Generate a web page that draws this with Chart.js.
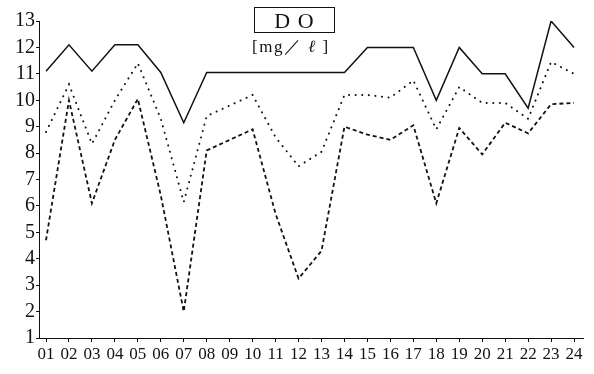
<!DOCTYPE html>
<html>
<head>
<meta charset="utf-8">
<script src="https://cdn.jsdelivr.net/npm/chart.js@4"></script>
<style>
html,body{margin:0;padding:0;background:#fff;}
#wrap{position:relative;width:594px;height:374px;}
#title{position:absolute;left:254px;top:7px;width:81px;height:26px;border:1px solid #111;box-sizing:border-box;
  font-family:"Liberation Serif",serif;font-size:22px;line-height:25px;text-align:center;letter-spacing:1px;color:#111;}
#unit{position:absolute;left:252px;top:35px;width:84px;font-family:"Liberation Serif",serif;font-size:17px;color:#111;white-space:nowrap;letter-spacing:1.5px;}
</style>
</head>
<body>
<div id="wrap">
<canvas id="c" width="594" height="374"></canvas>
<div id="title">D O</div>
<div id="unit">[mg／ <i>ℓ</i> ]</div>
</div>
<script>
const labels = ["01","02","03","04","05","06","07","08","09","10","11","12","13","14","15","16","17","18","19","20","21","22","23","24"];
const maxValues  = [11.1,12.1,11.1,12.1,12.1,11.05,9.15,11.05,11.05,11.05,11.05,11.05,11.05,11.05,12.0,12.0,12.0,10.0,12.0,11.0,11.0,9.7,13.0,12.0];
const meanValues = [8.8,10.6,8.35,10.0,11.4,9.3,6.15,9.4,9.8,10.2,8.6,7.5,8.05,10.2,10.2,10.1,10.75,8.9,10.5,9.9,9.9,9.3,11.45,11.0];
const minValues  = [4.7,10.0,6.1,8.5,10.05,6.4,2.0,8.1,8.5,8.9,5.7,3.25,4.3,9.0,8.7,8.5,9.05,6.1,8.95,7.95,9.15,8.75,9.85,9.9];
const yTicks = [1,2,3,4,5,6,7,8,9,10,11,12,13];

const toPts = arr => arr.map((v,i)=>({x:i+1,y:v}));
const ink = '#111';

new Chart(document.getElementById('c'), {
  type: 'line',
  data: {
    datasets: [
      {data: toPts(maxValues), borderColor: ink, borderWidth: 1.5, pointRadius: 0, tension: 0},
      {data: toPts(meanValues), borderColor: ink, borderWidth: 2, borderDash: [0.1,6.5], borderCapStyle:'round', pointRadius: 0, tension: 0},
      {data: toPts(minValues), borderColor: ink, borderWidth: 1.8, borderDash: [4,3], pointRadius: 0, tension: 0}
    ]
  },
  options: {
    responsive: false,
    animation: false,
    events: [],
    layout: {padding: {left: 0, right: 11, top: 21, bottom: 0}},
    plugins: {legend: {display: false}, tooltip: {enabled: false}},
    scales: {
      x: {
        type: 'linear',
        min: 0.695, max: 24.39,
        afterBuildTicks: s => { s.ticks = labels.map((l,i)=>({value:i+1})); },
        afterFit: s => { s.height = 36; },
        grid: {display: true, drawOnChartArea: false, drawTicks: true, tickLength: 4, color: ink, lineWidth: 1},
        border: {display: true, color: ink, width: 1},
        ticks: {color: ink, padding: 2, maxRotation: 0, autoSkip: false,
          font: {family: 'Liberation Serif', size: 17},
          callback: v => labels[v-1] || ''}
      },
      y: {
        min: 1, max: 13,
        afterBuildTicks: s => { s.ticks = yTicks.map(v=>({value:v})); },
        afterFit: s => { s.width = 39; },
        grid: {display: true, drawOnChartArea: false, drawTicks: true, tickLength: 3, color: ink, lineWidth: 1},
        border: {display: true, color: ink, width: 1},
        ticks: {color: ink, padding: 1, autoSkip: false, font: {family: 'Liberation Serif', size: 20}}
      }
    }
  }
});
</script>
</body>
</html>
